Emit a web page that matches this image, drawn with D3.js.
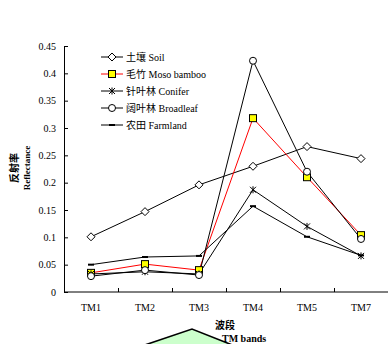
<!DOCTYPE html>
<html>
<head>
<meta charset="utf-8">
<script src="https://cdn.jsdelivr.net/npm/d3@7"></script>
<style>
  body { margin: 0; background: #fff; }
  svg { display: block; font-family: "Liberation Serif", "Noto Sans CJK SC", serif; }
</style>
</head>
<body>
<svg id="chart" width="388" height="344"></svg>
<script>
const bands = ['TM1', 'TM2', 'TM3', 'TM4', 'TM5', 'TM7'];
const yTicks = [0, 0.05, 0.1, 0.15, 0.2, 0.25, 0.3, 0.35, 0.4, 0.45];

const soil = [0.101, 0.147, 0.196, 0.230, 0.266, 0.244];
const moso = [0.035, 0.051, 0.040, 0.318, 0.210, 0.104];
const conifer = [0.033, 0.037, 0.033, 0.187, 0.120, 0.066];
const broadleaf = [0.029, 0.040, 0.031, 0.423, 0.220, 0.097];
const farmland = [0.050, 0.064, 0.066, 0.157, 0.101, 0.067];

const seriesNames = ['土壤 Soil', '毛竹 Moso bamboo', '针叶林 Conifer', '阔叶林 Broadleaf', '农田 Farmland'];

const series = [
    {name: seriesNames[0], values: soil, marker: 'diamond', line: '#000'},
    {name: seriesNames[1], values: moso, marker: 'square', line: '#ff0000'},
    {name: seriesNames[2], values: conifer, marker: 'star', line: '#000'},
    {name: seriesNames[3], values: broadleaf, marker: 'circle', line: '#000'},
    {name: seriesNames[4], values: farmland, marker: 'dash', line: '#000'}
];

const svg = d3.select('#chart');
const margin = {top: 46, left: 64, right: 0, bottom: 52};
const width = 388 - margin.left - margin.right;
const height = 344 - margin.top - margin.bottom;

// decorative green shape at the bottom
svg.append('path')
    .attr('d', 'M130,350 L192,329 L250,352 Z')
    .attr('fill', '#ccffcc')
    .attr('stroke', 'none');
svg.append('path')
    .attr('d', 'M130,350 L192,329 L250,352')
    .attr('fill', 'none')
    .attr('stroke', '#000')
    .attr('stroke-width', 1.6);

const g = svg.append('g').attr('transform', `translate(${margin.left},${margin.top})`);

const x = d3.scaleBand().domain(bands).range([0, width]);
const y = d3.scaleLinear().domain([0, 0.45]).range([height, 0]);

// x axis, ticks at band boundaries pointing inward
const xAxis = g.append('g').attr('transform', `translate(0,${height})`);
xAxis.append('line').attr('x1', 0).attr('x2', width).attr('stroke', '#000');
xAxis.selectAll('.tick')
    .data(bands.slice(1))
    .enter().append('line')
    .attr('x1', d => x(d) + 0.5).attr('x2', d => x(d) + 0.5)
    .attr('y1', 0).attr('y2', -4)
    .attr('stroke', '#000');
xAxis.selectAll('.lbl')
    .data(bands)
    .enter().append('text')
    .attr('x', d => x(d) + x.bandwidth() / 2)
    .attr('y', 19)
    .attr('text-anchor', 'middle')
    .attr('font-size', 10)
    .text(d => d);

// y axis
const yAxis = g.append('g')
    .call(d3.axisLeft(y).tickValues(yTicks).tickSize(-4).tickPadding(8).tickFormat(d => d3.format('')(+d.toFixed(2))));
yAxis.select('.domain').attr('d', `M0.5,0V${height}`);
yAxis.selectAll('text').attr('font-size', 10).attr('font-family', '"Liberation Serif", serif');

// axis titles
svg.append('text')
    .attr('transform', 'translate(18,168) rotate(-90)')
    .attr('text-anchor', 'middle')
    .attr('font-size', 10).attr('font-weight', 'bold')
    .attr('font-family', '"Noto Sans CJK SC", sans-serif')
    .text('反射率');
svg.append('text')
    .attr('transform', 'translate(30,168) rotate(-90)')
    .attr('text-anchor', 'middle')
    .attr('font-size', 9).attr('font-weight', 'bold')
    .text('Reflectance');
svg.append('text')
    .attr('x', 215).attr('y', 329)
    .attr('font-size', 10).attr('font-weight', 'bold')
    .attr('font-family', '"Noto Sans CJK SC", sans-serif')
    .text('波段');
svg.append('text')
    .attr('x', 222).attr('y', 342)
    .attr('font-size', 10).attr('font-weight', 'bold')
    .text('TM bands');

function drawMarker(sel, type) {
    if (type === 'diamond') {
        sel.append('path').attr('d', 'M0,-4L4,0L0,4L-4,0Z')
            .attr('fill', '#fff').attr('stroke', '#000').attr('stroke-width', 1);
    } else if (type === 'square') {
        sel.append('rect').attr('x', -3.5).attr('y', -3.5).attr('width', 7).attr('height', 7)
            .attr('fill', '#ffff00').attr('stroke', '#000').attr('stroke-width', 1);
    } else if (type === 'star') {
        sel.append('path').attr('d', 'M-3,-3L3,3M-3,3L3,-3M0,-3.5L0,3.5')
            .attr('stroke', '#000').attr('stroke-width', 1);
    } else if (type === 'circle') {
        sel.append('circle').attr('r', 3.5)
            .attr('fill', '#fff').attr('stroke', '#000').attr('stroke-width', 1);
    } else {
        sel.append('rect').attr('x', -3).attr('y', -1).attr('width', 6).attr('height', 2)
            .attr('fill', '#000');
    }
}

const line = d3.line()
    .x((d, i) => x(bands[i]) + x.bandwidth() / 2)
    .y(d => y(d));

series.forEach(s => {
    g.append('path')
        .datum(s.values)
        .attr('d', line)
        .attr('fill', 'none')
        .attr('stroke', s.line)
        .attr('stroke-width', 1);
});
series.forEach(s => {
    s.values.forEach((v, i) => {
        const m = g.append('g')
            .attr('transform', `translate(${x(bands[i]) + x.bandwidth() / 2},${y(v)})`);
        drawMarker(m, s.marker);
    });
});

// legend
const legend = svg.append('g').attr('transform', 'translate(101,57)');
series.forEach((s, i) => {
    const row = legend.append('g').attr('transform', `translate(0,${i * 17})`);
    row.append('line').attr('x1', 0).attr('x2', 22).attr('y1', 0).attr('y2', 0)
        .attr('stroke', s.line).attr('stroke-width', 1);
    drawMarker(row.append('g').attr('transform', 'translate(11,0)'), s.marker);
    row.append('text')
        .attr('x', 25).attr('y', 3.5)
        .attr('font-size', 10)
        .text(s.name);
});
</script>
</body>
</html>
